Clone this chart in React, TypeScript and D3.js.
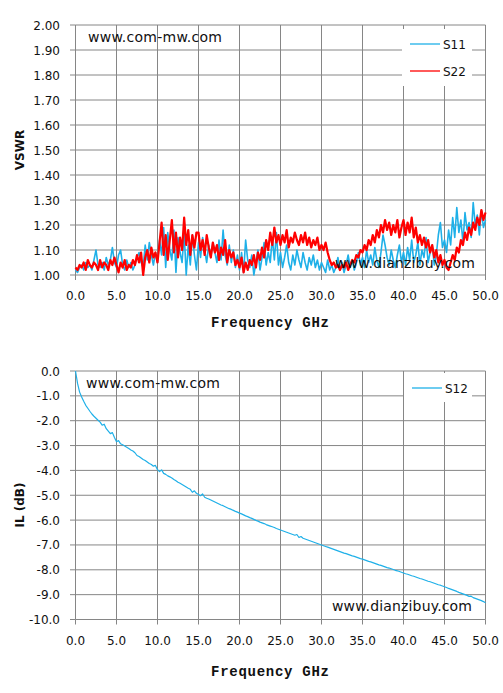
import React from 'react';
import * as d3 from 'd3';

// x axis (GHz) and tick values
const xTickValues = [0, 5, 10, 15, 20, 25, 30, 35, 40, 45, 50];
const vswrTickValues = [1.0, 1.1, 1.2, 1.3, 1.4, 1.5, 1.6, 1.7, 1.8, 1.9, 2.0];
const ilTickValues = [0, -1, -2, -3, -4, -5, -6, -7, -8, -9, -10];

// samples are evenly spaced from 0 to 50 GHz
const s11 = [
  1.02, 1.01, 1.03, 1.04, 1.02, 1.05, 1.03, 1.04, 1.02, 1.06, 1.1, 1.04, 1.03, 1.05, 1.02, 1.07, 1.04, 1.06, 1.11, 1.05,
  1.03, 1.08, 1.1, 1.04, 1.02, 1.06, 1.03, 1.05, 1.02, 1.04, 1.07, 1.09, 1.05, 1.03, 1.12, 1.06, 1.13, 1.08, 1.04, 1.09,
  1.05, 1.14, 1.08, 1.19, 1.03, 1.17, 1.1, 1.06, 1.18, 1.01, 1.15, 1.09, 1.05, 1.17, 1.0, 1.12, 1.04, 1.16, 1.08, 1.02,
  1.13, 1.07, 1.15, 1.1, 1.05, 1.12, 1.07, 1.13, 1.09, 1.05, 1.14, 1.06, 1.18, 1.08, 1.04, 1.12, 1.05, 1.1, 1.03, 1.08,
  1.02, 1.09, 1.01, 1.14, 1.06, 1.03, 1.08, 1.0, 1.05, 1.1, 1.02, 1.07, 1.13, 1.04, 1.09, 1.05, 1.15, 1.06, 1.17, 1.04,
  1.09, 1.03, 1.07, 1.12, 1.05, 1.02, 1.08, 1.04, 1.1, 1.06, 1.03, 1.09, 1.05, 1.02, 1.07, 1.04, 1.08, 1.03, 1.06, 1.02,
  1.05, 1.03, 1.01, 1.06, 1.02, 1.04, 1.01, 1.03, 1.07, 1.02, 1.05, 1.01, 1.04, 1.08, 1.03, 1.06, 1.02, 1.05, 1.09, 1.04,
  1.07, 1.03, 1.1, 1.05, 1.08, 1.04, 1.11, 1.06, 1.03, 1.09, 1.16, 1.12, 1.07, 1.04, 1.1, 1.06, 1.03, 1.08, 1.12, 1.05,
  1.09, 1.04, 1.11, 1.06, 1.14, 1.05, 1.08, 1.13, 1.04, 1.1, 1.07, 1.15, 1.05, 1.09, 1.12, 1.04, 1.08, 1.16, 1.21, 1.11,
  1.14, 1.09, 1.18, 1.12, 1.23, 1.15, 1.27, 1.17, 1.22, 1.13, 1.25, 1.18, 1.21, 1.15, 1.29, 1.2, 1.24, 1.16, 1.26, 1.19, 1.22,
];

const s22 = [
  1.03, 1.02, 1.04, 1.03, 1.05, 1.02, 1.06, 1.04, 1.03, 1.05, 1.04, 1.02, 1.06, 1.03, 1.05, 1.04, 1.02, 1.06, 1.04, 1.07,
  1.04, 1.01, 1.05, 1.03, 1.06, 1.02, 1.04, 1.03, 1.06, 1.04, 1.08, 1.05, 1.09, 1.0, 1.07, 1.1, 1.05, 1.11, 1.07, 1.09,
  1.05, 1.13, 1.21, 1.08, 1.16, 1.06, 1.14, 1.22, 1.09, 1.17, 1.07, 1.15, 1.1, 1.23, 1.12, 1.18, 1.08, 1.16, 1.11, 1.17,
  1.17, 1.1, 1.14, 1.08, 1.16, 1.11, 1.07, 1.13, 1.09, 1.12, 1.06, 1.11, 1.08, 1.14, 1.05, 1.1, 1.07, 1.09, 1.04, 1.06,
  1.03, 1.07, 1.01, 1.05, 1.02, 1.06, 1.04, 1.08, 1.03, 1.09, 1.06, 1.11, 1.07, 1.14, 1.1, 1.17, 1.12, 1.19, 1.13, 1.16,
  1.12, 1.16, 1.13, 1.18, 1.11, 1.15, 1.13, 1.17, 1.14, 1.12, 1.16, 1.13, 1.17, 1.12, 1.15, 1.11, 1.14, 1.12, 1.15, 1.1,
  1.12, 1.1, 1.13, 1.09, 1.06, 1.04, 1.05, 1.03, 1.04, 1.02, 1.04, 1.03, 1.05, 1.02, 1.04, 1.06, 1.05, 1.08, 1.07, 1.1,
  1.09, 1.12, 1.1, 1.14, 1.12, 1.16, 1.13, 1.18, 1.15, 1.2, 1.17, 1.22, 1.18, 1.21, 1.16, 1.2, 1.17, 1.22, 1.15, 1.19,
  1.22, 1.16, 1.21, 1.17, 1.23, 1.15, 1.19, 1.13, 1.16, 1.12, 1.15, 1.11, 1.14, 1.09, 1.12, 1.07, 1.1, 1.05, 1.08, 1.04,
  1.06, 1.03, 1.02, 1.05, 1.08, 1.06, 1.11, 1.09, 1.14, 1.12, 1.17, 1.14, 1.19, 1.16, 1.21, 1.18, 1.23, 1.2, 1.26, 1.22, 1.25,
];

const s12 = [
  0, -0.5, -0.85, -1.05, -1.22, -1.38, -1.5, -1.62, -1.73, -1.82, -1.9, -1.98, -2.06, -2.18, -2.14, -2.32, -2.42, -2.52, -2.48, -2.68,
  -2.85, -2.8, -2.93, -2.97, -3.02, -3.07, -3.12, -3.18, -3.22, -3.29, -3.4, -3.44, -3.5, -3.56, -3.6, -3.66, -3.72, -3.76, -3.83, -3.8,
  -3.97, -4.05, -3.98, -4.12, -4.16, -4.22, -4.26, -4.31, -4.37, -4.42, -4.48, -4.52, -4.57, -4.62, -4.67, -4.72, -4.76, -4.88, -4.82, -4.92,
  -4.97, -5.02, -4.95, -5.08, -5.12, -5.15, -5.19, -5.23, -5.27, -5.31, -5.35, -5.39, -5.42, -5.46, -5.5, -5.54, -5.57, -5.61, -5.65, -5.68,
  -5.72, -5.75, -5.79, -5.83, -5.86, -5.9, -5.93, -5.97, -6.01, -6.04, -6.08, -6.11, -6.14, -6.18, -6.21, -6.24, -6.27, -6.3, -6.34, -6.37,
  -6.4, -6.43, -6.46, -6.49, -6.52, -6.55, -6.58, -6.61, -6.58, -6.7, -6.66, -6.73, -6.76, -6.79, -6.82, -6.85, -6.88, -6.91, -6.94, -6.97,
  -7.0, -7.03, -7.06, -7.09, -7.12, -7.15, -7.18, -7.21, -7.24, -7.27, -7.3, -7.33, -7.35, -7.38, -7.41, -7.44, -7.46, -7.49, -7.52, -7.55,
  -7.57, -7.6, -7.63, -7.66, -7.68, -7.71, -7.74, -7.77, -7.8, -7.82, -7.85, -7.88, -7.91, -7.93, -7.96, -7.99, -8.02, -8.04, -8.07, -8.1,
  -8.13, -8.16, -8.18, -8.21, -8.24, -8.26, -8.29, -8.32, -8.35, -8.37, -8.4, -8.43, -8.46, -8.48, -8.51, -8.54, -8.57, -8.6, -8.62, -8.65,
  -8.68, -8.71, -8.75, -8.78, -8.81, -8.84, -8.87, -8.91, -8.94, -8.97, -9.0, -9.03, -9.07, -9.06, -9.12, -9.15, -9.18, -9.21, -9.24, -9.28, -9.33,
];

const BLUE = '#1fb0e8';
const RED = '#ff0000';
const GRID = '#868686';
const SANS = '"DejaVu Sans", Verdana, sans-serif';
const MONO = '"Liberation Mono", "Courier New", monospace';

const x = d3.scaleLinear().domain([0, 50]).range([75.5, 485.5]);

interface Series {
  values: number[];
  color: string;
  width: number;
}

interface PanelProps {
  top: number;
  bottom: number;
  yDomain: [number, number];
  yTicks: number[];
  yDigits: number;
  yLabel: string;
  yLabelCenter: number;
  series: Series[];
  legend: { name: string; color: string }[];
  legendBox: { x: number; y: number; w: number; h: number; first: number; gap: number };
  wmTop: { x: number; y: number };
  wmBottom: { x: number; y: number };
  xTitleY: number;
}

const Panel = (p: PanelProps) => {
  const y = d3.scaleLinear().domain(p.yDomain).range([p.bottom, p.top]);
  const line = (vals: number[]) => {
    const step = 50 / (vals.length - 1);
    return d3
      .line<number>()
      .x((d, i) => x(i * step))
      .y((d) => y(d))(vals) as string;
  };
  const lb = p.legendBox;
  return (
    <g>
      {/* grid */}
      {p.yTicks.map((t) => (
        <line key={'h' + t} x1={x(0)} x2={x(50)} y1={y(t)} y2={y(t)} stroke={GRID} strokeWidth={1} />
      ))}
      {xTickValues.map((t) => (
        <line key={'v' + t} x1={x(t)} x2={x(t)} y1={p.top} y2={p.bottom} stroke={GRID} strokeWidth={1} />
      ))}
      {/* tick marks */}
      {p.yTicks.map((t) => (
        <line key={'yt' + t} x1={70} x2={x(0)} y1={y(t)} y2={y(t)} stroke={GRID} strokeWidth={1} />
      ))}
      {xTickValues.map((t) => (
        <line key={'xt' + t} x1={x(t)} x2={x(t)} y1={p.bottom} y2={p.bottom + 5} stroke={GRID} strokeWidth={1} />
      ))}
      {/* watermarks */}
      <text x={p.wmTop.x} y={p.wmTop.y} fontFamily={SANS} fontSize={14} textLength={134} fill="#111">
        www.com-mw.com
      </text>
      {/* legend box */}
      <rect x={lb.x} y={lb.y} width={lb.w} height={lb.h} fill="#fff" />
      {p.legend.map((l, i) => (
        <g key={l.name}>
          <line
            x1={lb.x + 8}
            x2={lb.x + 38}
            y1={lb.first + i * lb.gap}
            y2={lb.first + i * lb.gap}
            stroke={l.color}
            strokeWidth={1.3}
          />
          <text x={lb.x + 41} y={lb.first + i * lb.gap + 4.5} fontFamily={SANS} fontSize={12} fill="#111">
            {l.name}
          </text>
        </g>
      ))}
      {/* data */}
      {p.series.map((s, i) => (
        <path
          key={i}
          d={line(s.values)}
          fill="none"
          stroke={s.color}
          strokeWidth={s.width}
          strokeLinejoin="round"
        />
      ))}
      <text x={p.wmBottom.x} y={p.wmBottom.y} fontFamily={SANS} fontSize={14} textLength={140} fill="#111">
        www.dianzibuy.com
      </text>
      {/* y tick labels */}
      {p.yTicks.map((t) => (
        <text
          key={'yl' + t}
          x={60}
          y={y(t) + 4.5}
          textAnchor="end"
          fontFamily={SANS}
          fontSize={12}
          fill="#111"
        >
          {t.toFixed(p.yDigits)}
        </text>
      ))}
      {/* x tick labels */}
      {xTickValues.map((t) => (
        <text
          key={'xl' + t}
          x={x(t)}
          y={p.bottom + 25}
          textAnchor="middle"
          fontFamily={SANS}
          fontSize={12}
          fill="#111"
        >
          {t.toFixed(1)}
        </text>
      ))}
      <text
        x={270}
        y={p.xTitleY}
        textAnchor="middle"
        fontFamily={MONO}
        fontWeight="bold"
        fontSize={14}
        textLength={118}
        fill="#111"
      >
        Frequency GHz
      </text>
      <text
        transform={`translate(24,${p.yLabelCenter}) rotate(-90)`}
        textAnchor="middle"
        fontFamily={SANS}
        fontWeight="bold"
        fontSize={12}
        fill="#111"
      >
        {p.yLabel}
      </text>
    </g>
  );
};

export default function App() {
  return (
    <svg
      width={503}
      height={693}
      style={{ position: 'absolute', left: 0, top: 0, background: '#fff' }}
    >
      <rect width={503} height={693} fill="#fff" />
      <Panel
        top={25}
        bottom={275}
        yDomain={[1, 2]}
        yTicks={vswrTickValues}
        yDigits={2}
        yLabel="VSWR"
        yLabelCenter={150}
        series={[
          { values: s11, color: BLUE, width: 1.6 },
          { values: s22, color: RED, width: 2.2 },
        ]}
        legend={[
          { name: 'S11', color: BLUE },
          { name: 'S22', color: RED },
        ]}
        legendBox={{ x: 402, y: 29, w: 70, h: 57, first: 44, gap: 27 }}
        wmTop={{ x: 88, y: 42 }}
        wmBottom={{ x: 335, y: 268 }}
        xTitleY={327}
      />
      <Panel
        top={371}
        bottom={619.5}
        yDomain={[-10, 0]}
        yTicks={ilTickValues}
        yDigits={1}
        yLabel="IL (dB)"
        yLabelCenter={505}
        series={[{ values: s12, color: BLUE, width: 1.2 }]}
        legend={[{ name: 'S12', color: BLUE }]}
        legendBox={{ x: 404, y: 373, w: 68, h: 29, first: 388, gap: 27 }}
        wmTop={{ x: 86, y: 388 }}
        wmBottom={{ x: 332, y: 611 }}
        xTitleY={676}
      />
    </svg>
  );
}
